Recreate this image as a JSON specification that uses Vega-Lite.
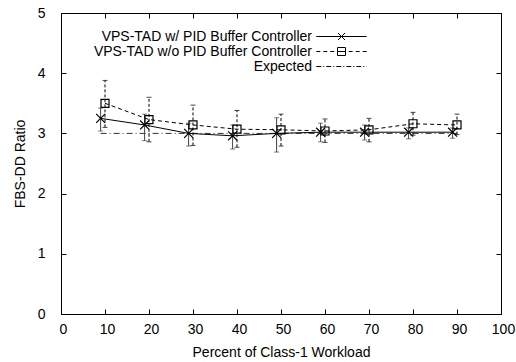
{
  "$schema": "https://vega.github.io/schema/vega-lite/v6.json",
  "width": 440,
  "height": 301,
  "autosize": {"type": "none"},
  "padding": {"left": 61, "top": 13, "right": 15, "bottom": 48},
  "config": {
    "view": {"stroke": "black", "strokeWidth": 1},
    "font": "Liberation Sans",
    "axis": {"grid": false, "domain": false, "tickColor": "black", "tickSize": -5, "labelFontSize": 14, "labelColor": "black", "labelFont": "Liberation Sans", "titleFont": "Liberation Sans", "titleFontSize": 14, "titleFontWeight": "normal", "titleColor": "black", "labelFlush": false}
  },
  "datasets": {
    "pts": [
      {"series": "VPS-TAD w/ PID Buffer Controller", "x": 9, "y": 3.25, "lo": 3.04, "hi": 3.42},
      {"series": "VPS-TAD w/ PID Buffer Controller", "x": 19, "y": 3.14, "lo": 2.88, "hi": 3.32},
      {"series": "VPS-TAD w/ PID Buffer Controller", "x": 29, "y": 3.0, "lo": 2.79, "hi": 3.17},
      {"series": "VPS-TAD w/ PID Buffer Controller", "x": 39, "y": 2.96, "lo": 2.74, "hi": 3.14},
      {"series": "VPS-TAD w/ PID Buffer Controller", "x": 49, "y": 3.0, "lo": 2.69, "hi": 3.26},
      {"series": "VPS-TAD w/ PID Buffer Controller", "x": 59, "y": 3.02, "lo": 2.86, "hi": 3.17},
      {"series": "VPS-TAD w/ PID Buffer Controller", "x": 69, "y": 3.02, "lo": 2.89, "hi": 3.14},
      {"series": "VPS-TAD w/ PID Buffer Controller", "x": 79, "y": 3.02, "lo": 2.91, "hi": 3.09},
      {"series": "VPS-TAD w/ PID Buffer Controller", "x": 89, "y": 3.02, "lo": 2.92, "hi": 3.09},
      {"series": "VPS-TAD w/o PID Buffer Controller", "x": 10, "y": 3.5, "lo": 3.1, "hi": 3.88},
      {"series": "VPS-TAD w/o PID Buffer Controller", "x": 20, "y": 3.23, "lo": 2.86, "hi": 3.6},
      {"series": "VPS-TAD w/o PID Buffer Controller", "x": 30, "y": 3.14, "lo": 2.8, "hi": 3.47},
      {"series": "VPS-TAD w/o PID Buffer Controller", "x": 40, "y": 3.07, "lo": 2.77, "hi": 3.38},
      {"series": "VPS-TAD w/o PID Buffer Controller", "x": 50, "y": 3.06, "lo": 2.79, "hi": 3.32},
      {"series": "VPS-TAD w/o PID Buffer Controller", "x": 60, "y": 3.04, "lo": 2.85, "hi": 3.24},
      {"series": "VPS-TAD w/o PID Buffer Controller", "x": 70, "y": 3.06, "lo": 2.86, "hi": 3.25},
      {"series": "VPS-TAD w/o PID Buffer Controller", "x": 80, "y": 3.16, "lo": 2.97, "hi": 3.35},
      {"series": "VPS-TAD w/o PID Buffer Controller", "x": 90, "y": 3.14, "lo": 2.98, "hi": 3.32}
    ],
    "exp": [
      {"series": "Expected", "x": 9, "y": 3},
      {"series": "Expected", "x": 90, "y": 3}
    ]
  },
  "layer": [
    {
      "data": {"name": "exp"},
      "mark": {"type": "line", "color": "#333333", "strokeWidth": 1, "strokeDash": [6, 3, 1, 3]},
      "encoding": {
        "x": {"field": "x", "type": "quantitative", "scale": {"domain": [0, 100], "nice": false},
          "axis": {"orient": "bottom", "values": [0, 10, 20, 30, 40, 50, 60, 70, 80, 90, 100], "labelPadding": 13, "labelOffset": 2, "title": "Percent of Class-1 Workload", "titleY": 42, "titleBaseline": "alphabetic"}},
        "y": {"field": "y", "type": "quantitative", "scale": {"domain": [0, 5], "nice": false},
          "axis": {"orient": "left", "values": [0, 1, 2, 3, 4, 5], "labelPadding": 21, "title": "FBS-DD Ratio", "titleX": -41, "titleY": 150.5, "titleAngle": -90, "titleBaseline": "middle", "titleAlign": "center"}}
      }
    },
    {
      "data": {"name": "pts"},
      "transform": [{"filter": "datum.series == 'VPS-TAD w/ PID Buffer Controller'"}],
      "mark": {"type": "line", "color": "black", "strokeWidth": 1},
      "encoding": {
        "x": {"field": "x", "type": "quantitative", "axis": null},
        "y": {"field": "y", "type": "quantitative", "axis": null}
      }
    },
    {
      "data": {"name": "pts"},
      "transform": [{"filter": "datum.series == 'VPS-TAD w/o PID Buffer Controller'"}],
      "mark": {"type": "line", "color": "black", "strokeWidth": 1, "strokeDash": [4, 3]},
      "encoding": {
        "x": {"field": "x", "type": "quantitative", "axis": null},
        "y": {"field": "y", "type": "quantitative", "axis": null}
      }
    },
    {
      "data": {"name": "pts"},
      "transform": [{"filter": "datum.series == 'VPS-TAD w/ PID Buffer Controller'"}],
      "mark": {"type": "errorbar", "color": "#444444", "ticks": {"size": 5, "color": "#444444"}, "rule": {"strokeWidth": 1}},
      "encoding": {
        "x": {"field": "x", "type": "quantitative", "axis": null},
        "y": {"field": "lo", "type": "quantitative", "axis": null},
        "y2": {"field": "hi"}
      }
    },
    {
      "data": {"name": "pts"},
      "transform": [{"filter": "datum.series == 'VPS-TAD w/o PID Buffer Controller'"}],
      "mark": {"type": "errorbar", "color": "black", "ticks": {"size": 5, "color": "black"}, "rule": {"strokeWidth": 1, "strokeDash": [3, 2]}},
      "encoding": {
        "x": {"field": "x", "type": "quantitative", "axis": null},
        "y": {"field": "lo", "type": "quantitative", "axis": null},
        "y2": {"field": "hi"}
      }
    },
    {
      "data": {"name": "pts"},
      "transform": [{"filter": "datum.series == 'VPS-TAD w/ PID Buffer Controller'"}],
      "mark": {"type": "point", "shape": "M-1,-1L1,1M-1,1L1,-1", "size": 80, "filled": false, "color": "black", "strokeWidth": 1.2, "opacity": 1},
      "encoding": {
        "x": {"field": "x", "type": "quantitative", "axis": null},
        "y": {"field": "y", "type": "quantitative", "axis": null}
      }
    },
    {
      "data": {"name": "pts"},
      "transform": [{"filter": "datum.series == 'VPS-TAD w/o PID Buffer Controller'"}],
      "mark": {"type": "point", "shape": "square", "size": 64, "filled": false, "color": "black", "strokeWidth": 1.2, "opacity": 1},
      "encoding": {
        "x": {"field": "x", "type": "quantitative", "axis": null},
        "y": {"field": "y", "type": "quantitative", "axis": null}
      }
    },
    {
      "data": {"name": "pts"},
      "transform": [{"filter": "datum.x < 0"}],
      "mark": {"type": "point", "filled": false, "color": "black", "strokeWidth": 1, "opacity": 1},
      "encoding": {
        "x": {"field": "x", "type": "quantitative", "axis": {"orient": "top", "labels": false, "title": null, "values": [0, 10, 20, 30, 40, 50, 60, 70, 80, 90, 100]}},
        "y": {"field": "y", "type": "quantitative", "axis": {"orient": "right", "labels": false, "title": null, "values": [0, 1, 2, 3, 4, 5]}},
        "shape": {
          "field": "series", "type": "nominal",
          "scale": {
            "domain": ["VPS-TAD w/ PID Buffer Controller", "VPS-TAD w/o PID Buffer Controller", "Expected"],
            "range": [
              "M-3.6,0H3.6M-0.5,-0.5L0.5,0.5M-0.5,0.5L0.5,-0.5",
              "M-3.6,0H-3.03M-2.6,0H-2.03M-1.6,0H-1.03M-0.57,-0.57H0.57V0.57H-0.57ZM-0.57,0H0.57M1.03,0H1.6M2.03,0H2.6M3.03,0H3.6",
              "M-3.6,0H-2.89M-2.6,0H-2.46M-2.17,0H-1.46M-1.17,0H-1.03M-0.74,0H-0.03M0.26,0H0.4M0.69,0H1.4M1.69,0H1.83M2.12,0H2.83M3.12,0H3.26M3.55,0H3.6"
            ]
          },
          "legend": {"title": null, "orient": "none", "legendX": 273, "legendY": 16, "direction": "vertical", "columns": 1, "symbolSize": 196, "symbolStrokeWidth": 1, "symbolStrokeColor": "black", "symbolFillColor": "transparent", "symbolOpacity": 1, "labelAlign": "right", "labelOffset": -37, "labelFontSize": 14, "labelFont": "Liberation Sans", "labelColor": "black", "labelLimit": 400, "rowPadding": -1, "padding": 0}
        }
      }
    }
  ],
  "resolve": {"axis": {"x": "independent", "y": "independent"}}
}
